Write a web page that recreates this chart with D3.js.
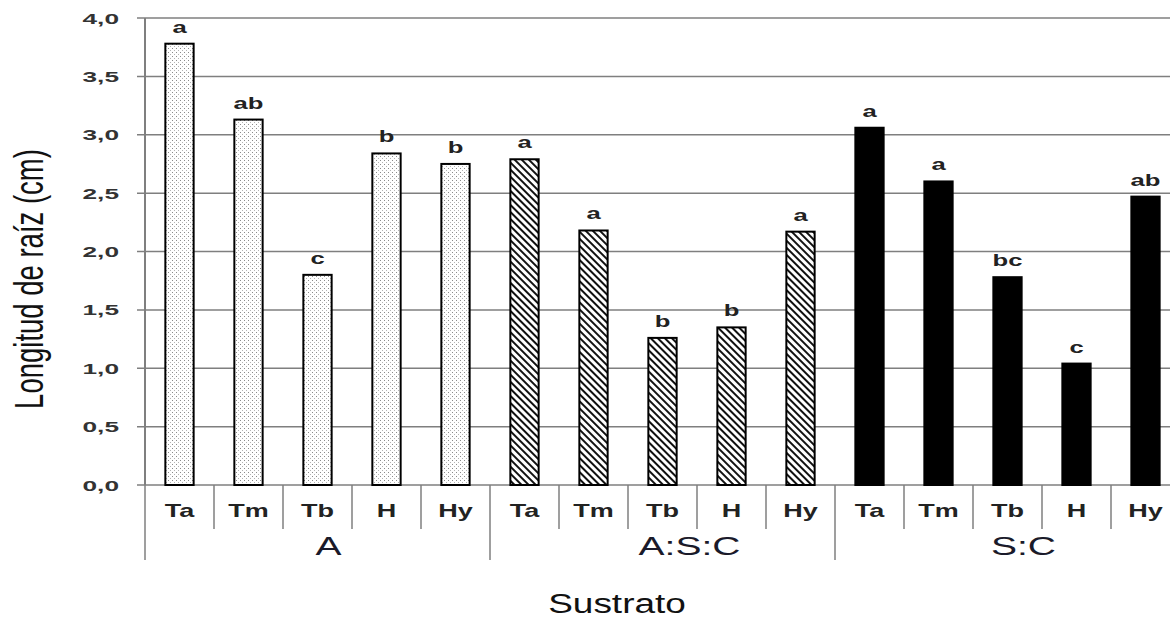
<!DOCTYPE html>
<html>
<head>
<meta charset="utf-8">
<script src="https://cdn.jsdelivr.net/npm/d3@7"></script>
<style>
  html, body { margin: 0; padding: 0; background: #fff; overflow: hidden; }
  svg { display: block; font-family: "Liberation Sans", Arial, sans-serif; }
</style>
</head>
<body>
<svg id="chart" width="1170" height="618"></svg>
<script>
// Root length by substrate and treatment
const groups = ["A", "A:S:C", "S:C"];
const treatments = ["Ta", "Tm", "Tb", "H", "Hy"];
const valuesA   = [3.78, 3.13, 1.80, 2.84, 2.75];
const valuesASC = [2.79, 2.18, 1.26, 1.35, 2.17];
const valuesSC  = [3.06, 2.60, 1.78, 1.04, 2.47];
const lettersA   = ["a", "ab", "c", "b", "b"];
const lettersASC = ["a", "a", "b", "b", "a"];
const lettersSC  = ["a", "a", "bc", "c", "ab"];
const yTicks = [0, 0.5, 1.0, 1.5, 2.0, 2.5, 3.0, 3.5, 4.0];

const seriesValues = [valuesA, valuesASC, valuesSC];
const seriesLetters = [lettersA, lettersASC, lettersSC];

const rows = [];
groups.forEach((g, gi) => {
  treatments.forEach((t, ti) => {
    rows.push({ key: g + "|" + t, group: g, gi, t, v: seriesValues[gi][ti], letter: seriesLetters[gi][ti] });
  });
});

const svg = d3.select("#chart");
const plotLeft = 145, plotRight = 1180, plotTop = 18, plotBottom = 485;

const x = d3.scaleBand().domain(rows.map(d => d.key)).range([plotLeft, plotRight]).paddingInner(0).paddingOuter(0);
const y = d3.scaleLinear().domain([0, 4]).range([plotBottom, plotTop]);

// Text is drawn horizontally widened
function place(sel, fx, fy, sx) {
  return sel.attr("transform", (d, i) => `translate(${fx(d, i)},${fy(d, i)}) scale(${sx},1)`);
}

// Fill patterns
const defs = svg.append("defs");
const dots = defs.append("pattern").attr("id", "dots").attr("patternUnits", "userSpaceOnUse")
  .attr("width", 4).attr("height", 4);
dots.append("rect").attr("width", 4).attr("height", 4).attr("fill", "#fff");
dots.append("rect").attr("x", 0).attr("y", 0).attr("width", 1).attr("height", 1).attr("fill", "#8a8a8a");
dots.append("rect").attr("x", 2).attr("y", 2).attr("width", 1).attr("height", 1).attr("fill", "#b4b4b4");

const hatch = defs.append("pattern").attr("id", "hatch").attr("patternUnits", "userSpaceOnUse")
  .attr("width", 5).attr("height", 5).attr("patternTransform", "rotate(-45)");
hatch.append("rect").attr("width", 5).attr("height", 5).attr("fill", "#fff");
hatch.append("rect").attr("x", 0).attr("y", 0).attr("width", 2).attr("height", 5).attr("fill", "#111");

const fills = ["url(#dots)", "url(#hatch)", "#000"];

// Gridlines, axis lines
svg.append("g").selectAll("line").data(yTicks).join("line")
  .attr("x1", plotLeft - 8).attr("x2", 1170)
  .attr("y1", d => y(d)).attr("y2", d => y(d))
  .attr("stroke", "#7f7f7f").attr("stroke-width", 1.5);

svg.append("line").attr("x1", plotLeft).attr("x2", plotLeft).attr("y1", y(4)).attr("y2", y(0))
  .attr("stroke", "#7f7f7f").attr("stroke-width", 2);

// Y tick labels
const fmt = d => d3.format(".1f")(d).replace(".", ",");
place(svg.append("g").selectAll("text").data(yTicks).join("text"),
      () => 119, d => y(d) + 5.5, 1.75)
  .attr("text-anchor", "end").attr("font-size", 15).attr("font-weight", "bold")
  .attr("fill", "#333").text(fmt);

// Bars
const bw = x.bandwidth() * 0.41;
svg.append("g").selectAll("rect").data(rows).join("rect")
  .attr("x", d => x(d.key) + (x.bandwidth() - bw) / 2)
  .attr("y", d => y(d.v))
  .attr("width", bw)
  .attr("height", d => y(0) - y(d.v))
  .attr("fill", d => fills[d.gi])
  .attr("stroke", "#000").attr("stroke-width", 2);

// Significance letters
place(svg.append("g").selectAll("text").data(rows).join("text"),
      d => x(d.key) + x.bandwidth() / 2, d => y(d.v) - 11, 1.6)
  .attr("text-anchor", "middle").attr("font-size", 16).attr("font-weight", "bold")
  .attr("fill", "#222").text(d => d.letter);

// Category axis: treatment dividers and labels
const edges = d3.range(rows.length + 1).map(i => plotLeft + i * x.step());
svg.append("g").selectAll("line").data(edges).join("line")
  .attr("x1", d => d).attr("x2", d => d)
  .attr("y1", y(0)).attr("y2", (d, i) => (i % 5 === 0) ? 560 : 529)
  .attr("stroke", "#7f7f7f").attr("stroke-width", 1.5);

place(svg.append("g").selectAll("text").data(rows).join("text"),
      d => x(d.key) + x.bandwidth() / 2, () => 517, 1.5)
  .attr("text-anchor", "middle").attr("font-size", 18).attr("font-weight", "bold")
  .attr("fill", "#222").text(d => d.t);

// Substrate group labels
const groupLabelShift = [11, 27, 16];
place(svg.append("g").selectAll("text").data(groups).join("text"),
      (g, i) => (x(g + "|" + treatments[0]) + x(g + "|" + treatments[4]) + x.bandwidth()) / 2 + groupLabelShift[i],
      () => 555, 1.5)
  .attr("text-anchor", "middle").attr("font-size", 26)
  .attr("fill", "#1a1a2a").text(d => d);

// Axis titles
svg.append("text").attr("transform", "translate(617,613) scale(1.37,1)")
  .attr("text-anchor", "middle").attr("font-size", 27).attr("fill", "#111").text("Sustrato");

svg.append("text")
  .attr("transform", "translate(43,279) scale(1.5,1) rotate(-90)")
  .attr("text-anchor", "middle").attr("font-size", 27.5)
  .attr("fill", "#111").text("Longitud de raíz (cm)");
</script>
</body>
</html>
